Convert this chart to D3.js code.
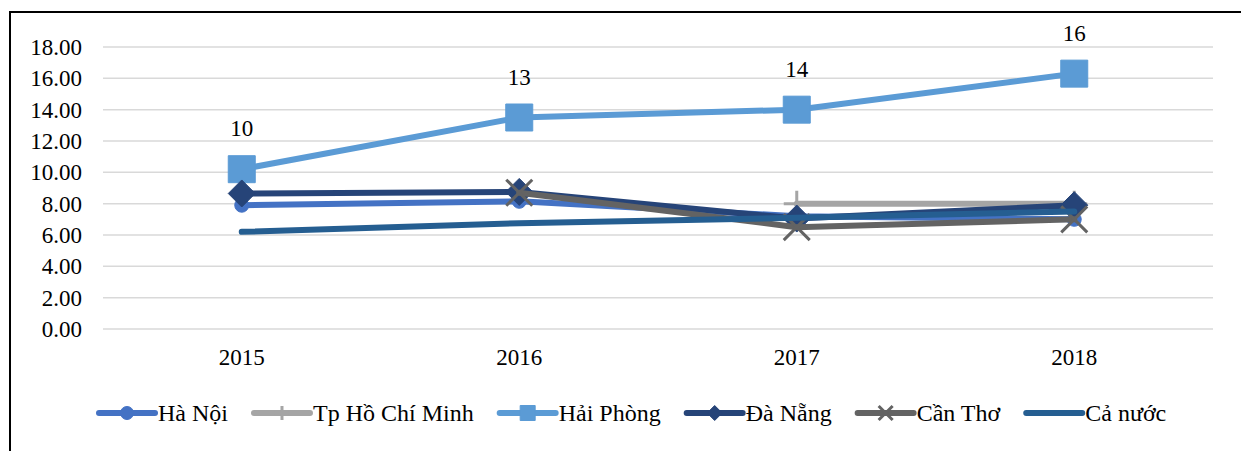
<!DOCTYPE html>
<html>
<head>
<meta charset="utf-8">
<script src="https://cdn.jsdelivr.net/npm/d3@7"></script>
<style>
  body { margin: 0; background: #fff; }
  svg { display: block; }
  text { font-family: "Liberation Serif", "Times New Roman", serif; fill: #000; }
</style>
</head>
<body>
<svg id="chart" width="1241" height="451"></svg>
<script>
const years = ["2015", "2016", "2017", "2018"]
const yTicks = [0, 2, 4, 6, 8, 10, 12, 14, 16, 18]

const haNoi = [7.9, 8.15, 7.2, 7.0]
const hoChiMinh = [null, null, 8.0, 8.0]
const haiPhong = [10.2, 13.5, 14.0, 16.3]
const daNang = [8.65, 8.75, 7.05, 7.9]
const canTho = [null, 8.7, 6.5, 7.0]
const caNuoc = [6.2, 6.75, 7.1, 7.5]
const haiPhongLabels = ["10", "13", "14", "16"]

const seriesNames = ["Hà Nội", "Tp Hồ Chí Minh", "Hải Phòng", "Đà Nẵng", "Cần Thơ", "Cả nước"]
const seriesValues = [haNoi, hoChiMinh, haiPhong, daNang, canTho, caNuoc]
const seriesColors = ["#4472C4", "#A5A5A5", "#5B9BD5", "#264478", "#636363", "#255E91"]
const seriesMarkers = ["circle", "plus", "square", "diamond", "cross", "none"]

const svg = d3.select("#chart")
const width = 1241, height = 451

// chart frame (only top and left edges visible)
svg.append("path")
  .attr("d", `M10,451 L10,12 L${width},12`)
  .attr("fill", "none")
  .attr("stroke", "#000")
  .attr("stroke-width", 2)

const plot = { left: 103, right: 1213, top: 47, bottom: 329 }

const x = d3.scaleBand().domain(years).range([plot.left, plot.right])
const cx = d => x(d) + x.bandwidth() / 2
const y = d3.scaleLinear().domain([0, 18]).range([plot.bottom, plot.top])

// gridlines
svg.append("g")
  .selectAll("line")
  .data(yTicks)
  .join("line")
  .attr("x1", plot.left)
  .attr("x2", plot.right)
  .attr("y1", d => y(d))
  .attr("y2", d => y(d))
  .attr("stroke", "#D9D9D9")
  .attr("stroke-width", 1.5)

// y tick labels
svg.append("g")
  .selectAll("text")
  .data(yTicks)
  .join("text")
  .attr("x", 82)
  .attr("y", d => y(d))
  .attr("dy", "0.35em")
  .attr("text-anchor", "end")
  .attr("font-size", 23)
  .text(d => d.toFixed(2))

// x labels
svg.append("g")
  .selectAll("text")
  .data(years)
  .join("text")
  .attr("x", d => cx(d))
  .attr("y", 357)
  .attr("dy", "0.35em")
  .attr("text-anchor", "middle")
  .attr("font-size", 23)
  .text(d => d)

// marker shapes
function markerPath(type, s) {
  const h = s / 2
  switch (type) {
    case "circle": return d3.symbol(d3.symbolCircle, Math.PI * h * h)()
    case "square": return `M${-h},${-h}H${h}V${h}H${-h}Z`
    case "diamond": return `M0,${-h}L${h},0L0,${h}L${-h},0Z`
    case "cross": return `M${-h},${-h}L${h},${h}M${h},${-h}L${-h},${h}`
    case "plus": return `M0,${-h}V${h}M${-h},0H${h}`
    default: return ""
  }
}
const markerSize = { circle: 14, square: 27, diamond: 27, cross: 26, plus: 26, none: 0 }
const legendMarkerSize = { circle: 13, square: 15, diamond: 15, cross: 14, plus: 14, none: 0 }

function drawMarker(g, type, color, size) {
  const stroked = type === "cross" || type === "plus"
  g.append("path")
    .attr("d", markerPath(type, size))
    .attr("fill", stroked ? "none" : color)
    .attr("stroke", color)
    .attr("stroke-width", stroked ? 3 : 1)
}

const line = d3.line()
  .defined(d => d.v !== null)
  .x(d => cx(d.year))
  .y(d => y(d.v))

seriesNames.forEach((name, i) => {
  const pts = years.map((yr, j) => ({ year: yr, v: seriesValues[i][j] }))
  const g = svg.append("g")
  g.append("path")
    .datum(pts)
    .attr("d", line)
    .attr("fill", "none")
    .attr("stroke", seriesColors[i])
    .attr("stroke-width", 6)
    .attr("stroke-linecap", "round")
    .attr("stroke-linejoin", "round")
  if (seriesMarkers[i] !== "none") {
    pts.filter(d => d.v !== null).forEach(d => {
      const m = g.append("g").attr("transform", `translate(${cx(d.year)},${y(d.v)})`)
      drawMarker(m, seriesMarkers[i], seriesColors[i], markerSize[seriesMarkers[i]])
    })
  }
})

// data labels for Hải Phòng
svg.append("g")
  .selectAll("text")
  .data(years)
  .join("text")
  .attr("x", d => cx(d))
  .attr("y", (d, j) => y(haiPhong[j]) - 41)
  .attr("dy", "0.35em")
  .attr("text-anchor", "middle")
  .attr("font-size", 23)
  .text((d, j) => haiPhongLabels[j])

// legend
const legend = svg.append("g")
let lx = 99
const ly = 413
seriesNames.forEach((name, i) => {
  const item = legend.append("g").attr("transform", `translate(${lx},${ly})`)
  item.append("line")
    .attr("x1", 0).attr("x2", 56)
    .attr("stroke", seriesColors[i])
    .attr("stroke-width", 6)
    .attr("stroke-linecap", "round")
  if (seriesMarkers[i] !== "none") {
    const m = item.append("g").attr("transform", "translate(28,0)")
    drawMarker(m, seriesMarkers[i], seriesColors[i], legendMarkerSize[seriesMarkers[i]])
  }
  const t = item.append("text")
    .attr("x", 59)
    .attr("dy", "0.35em")
    .attr("font-size", 24)
    .text(name)
  lx += 59 + t.node().getComputedTextLength() + 26
})
</script>
</body>
</html>
